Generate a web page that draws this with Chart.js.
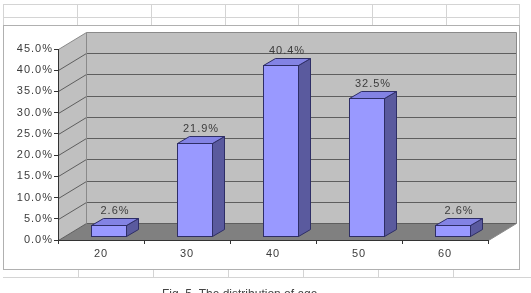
<!DOCTYPE html>
<html lang="en">
<head>
    <meta charset="UTF-8">
    <script src="https://cdn.jsdelivr.net/npm/chart.js"></script>
    <title>Age distribution</title>
    <style>
        body { margin: 0; background: #fff; }
        #grafico { display: block; }
    </style>
</head>
<body>
    <canvas id="grafico" width="531" height="293"></canvas>
    <script>
        // data
        const ages = ['20', '30', '40', '50', '60'];
        const shares = [2.6, 21.9, 40.4, 32.5, 2.6];
        const yMax = 45;
        const yStep = 5;
        const caption = 'Fig. 5. The distribution of age';

        // 3D look: depth of the floor/walls and of each column
        const DX = 28, DY = 17;
        const BDX = 12, BDY = 7;
        const OX = 7, OY = 4;
        const fonte = '"Liberation Sans", Arial, sans-serif';

        const line = (ctx, pts) => {
            ctx.beginPath();
            ctx.moveTo(pts[0][0], pts[0][1]);
            for (let i = 1; i < pts.length; i++) ctx.lineTo(pts[i][0], pts[i][1]);
        };

        const cenario = {
            id: 'cenario',
            beforeLayout(chart) { chart.ctx.letterSpacing = '1px'; },
            beforeDraw(chart) {
                const { ctx, chartArea: a, scales: { y } } = chart;
                ctx.save();
                ctx.fillStyle = '#fff';
                ctx.fillRect(0, 0, chart.width, chart.height);

                // spreadsheet cells around the chart
                ctx.strokeStyle = '#d4d4d4';
                ctx.lineWidth = 1;
                const cols = [3, 77, 151, 225, 298, 372, 446, 519];
                [4.5, 17.5].forEach(py => { line(ctx, [[3, py], [519, py]]); ctx.stroke(); });
                cols.forEach(px => { line(ctx, [[px + 0.5, 4], [px + 0.5, 25]]); ctx.stroke(); });
                line(ctx, [[3, 277.5], [531, 277.5]]); ctx.stroke();
                [78, 153, 228, 303, 378, 453].forEach(px => { line(ctx, [[px + 0.5, 269], [px + 0.5, 278]]); ctx.stroke(); });
                ctx.strokeStyle = '#b0b0b0';
                ctx.strokeRect(3.5, 25.5, 516, 244);

                // walls and floor
                const x0 = Math.round(a.left) + 0.5, x1 = Math.round(a.right) + 0.5;
                const yb = Math.round(y.getPixelForValue(0)) + 0.5;
                const yt = Math.round(y.getPixelForValue(yMax)) + 0.5;
                ctx.fillStyle = '#c0c0c0';
                line(ctx, [[x0, yt], [x0 + DX, yt - DY], [x0 + DX, yb - DY], [x0, yb]]);
                ctx.closePath(); ctx.fill();
                ctx.fillRect(x0 + DX, yt - DY, x1 - x0, yb - yt);
                ctx.fillStyle = '#808080';
                line(ctx, [[x0, yb], [x0 + DX, yb - DY], [x1 + DX, yb - DY], [x1, yb]]);
                ctx.closePath(); ctx.fill();

                y.ticks.forEach(t => {
                    const py = Math.round(y.getPixelForValue(t.value)) + 0.5;
                    ctx.strokeStyle = t.value === yMax ? '#8a8a8a' : '#5e5e5e';
                    line(ctx, [[x0, py], [x0 + DX, py - DY], [x1 + DX, py - DY]]);
                    ctx.stroke();
                });
                ctx.strokeStyle = '#8a8a8a';
                line(ctx, [[x0 + DX, yt - DY], [x0 + DX, yb - DY]]); ctx.stroke();
                line(ctx, [[x1 + DX, yt - DY], [x1 + DX, yb - DY], [x1, yb]]); ctx.stroke();
                ctx.restore();
                ctx.letterSpacing = '1px';
            },
            afterDatasetsDraw(chart) {
                const ctx = chart.ctx;
                const meta = chart.getDatasetMeta(0);
                ctx.save();
                ctx.lineWidth = 1;
                ctx.strokeStyle = '#2e2e66';
                meta.data.forEach((bar, i) => {
                    const w = Math.round(bar.width);
                    const l = Math.round(bar.x - w / 2 + OX) + 0.5, r = l + w;
                    const t = Math.round(bar.y - OY) + 0.5, b = Math.round(bar.base - OY) + 0.5;

                    ctx.fillStyle = '#5a5a9e';
                    line(ctx, [[r, t], [r + BDX, t - BDY], [r + BDX, b - BDY], [r, b]]);
                    ctx.closePath(); ctx.fill(); ctx.stroke();
                    ctx.fillStyle = '#8383e4';
                    line(ctx, [[l, t], [l + BDX, t - BDY], [r + BDX, t - BDY], [r, t]]);
                    ctx.closePath(); ctx.fill(); ctx.stroke();
                    ctx.fillStyle = '#9999ff';
                    ctx.fillRect(l, t, w, b - t);
                    ctx.strokeRect(l, t, w, b - t);

                    ctx.fillStyle = '#3c3c3c';
                    ctx.font = '11px ' + fonte;
                    ctx.letterSpacing = '1px';
                    ctx.textAlign = 'center';
                    ctx.textBaseline = 'alphabetic';
                    ctx.fillText(shares[i].toFixed(1) + '%', (l + r) / 2 + BDX / 2, t - 12);
                });
                ctx.restore();
            },
            afterDraw(chart) {
                const ctx = chart.ctx;
                ctx.save();
                ctx.letterSpacing = '0px';
                ctx.fillStyle = '#444';
                ctx.font = '12px ' + fonte;
                ctx.textBaseline = 'top';
                ctx.fillText(caption, 162, 289);
                ctx.restore();
            }
        };

        new Chart(document.getElementById('grafico'), {
            type: 'bar',
            data: {
                labels: ages,
                datasets: [{
                    data: shares,
                    backgroundColor: 'rgba(0,0,0,0)',
                    borderWidth: 0,
                    categoryPercentage: 1,
                    barPercentage: 0.41
                }]
            },
            options: {
                responsive: false,
                animation: false,
                events: [],
                layout: { padding: { left: 3, right: 43, top: 49, bottom: 23 } },
                plugins: { legend: { display: false }, tooltip: { enabled: false } },
                scales: {
                    x: {
                        grid: { display: true, drawOnChartArea: false, drawTicks: true, tickLength: 4, color: '#333' },
                        border: { display: true, color: '#333' },
                        ticks: { color: '#3c3c3c', font: { family: fonte, size: 11 }, padding: 3 },
                        afterFit(s) { s.height = 30; }
                    },
                    y: {
                        min: 0,
                        max: yMax,
                        grid: { display: true, drawOnChartArea: false, drawTicks: true, tickLength: 4, color: '#333' },
                        border: { display: true, color: '#333' },
                        ticks: {
                            stepSize: yStep,
                            color: '#3c3c3c',
                            font: { family: fonte, size: 11 },
                            padding: 1,
                            callback: v => v.toFixed(1) + '%'
                        },
                        afterFit(s) { s.width = 55; }
                    }
                }
            },
            plugins: [cenario]
        });
    </script>
</body>
</html>
